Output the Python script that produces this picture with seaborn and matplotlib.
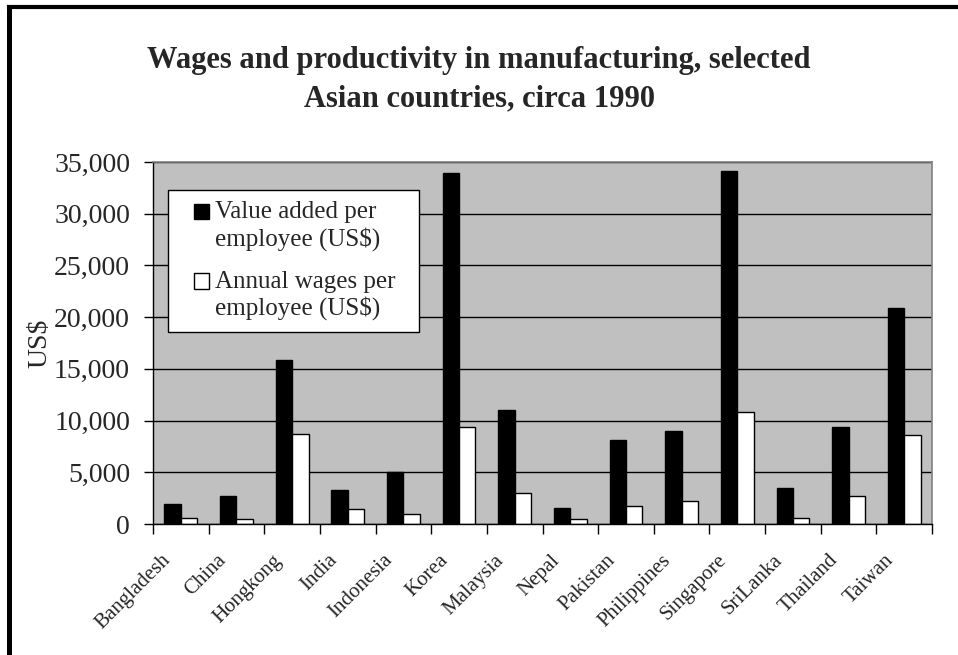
import matplotlib
matplotlib.use("Agg")
import matplotlib.pyplot as plt
from matplotlib.lines import Line2D
from matplotlib.patches import Rectangle
from matplotlib.legend_handler import HandlerPatch
from matplotlib.ticker import FuncFormatter, MultipleLocator
import matplotlib.transforms as mtransforms
import seaborn as sns
import pandas as pd

countries = ["Bangladesh", "China", "Hongkong", "India", "Indonesia", "Korea",
             "Malaysia", "Nepal", "Pakistan", "Philippines", "Singapore",
             "SriLanka", "Thailand", "Taiwan"]
value_added = [1950, 2680, 15880, 3320, 5060, 33910, 10990, 1580, 8090, 8990,
               34100, 3480, 9370, 20870]
annual_wages = [620, 450, 8730, 1450, 1000, 9370, 3030, 450, 1740, 2220,
                10830, 620, 2680, 8600]
series_names = ["Value added per\nemployee (US$)", "Annual wages per\nemployee (US$)"]

df = pd.DataFrame({
    "country": countries * 2,
    "value": value_added + annual_wages,
    "series": [series_names[0]] * len(countries) + [series_names[1]] * len(countries),
})

sns.set_theme(style="white")
plt.rcParams["font.family"] = ["Liberation Serif", "DejaVu Serif"]

fig = plt.figure(figsize=(9.58, 6.55), dpi=100)
ax = fig.add_axes([0.1597, 0.2, 0.8132, 0.5527])
ax.set_facecolor("#C0C0C0")

sns.barplot(data=df, x="country", y="value", hue="series", order=countries,
            hue_order=series_names, palette=["black", "white"], width=0.59,
            edgecolor="black", linewidth=1, saturation=1, errorbar=None, ax=ax)

ax.set_ylim(0, 35000)
ax.set_xlim(-0.5, len(countries) - 0.5)
ax.yaxis.set_major_locator(MultipleLocator(5000))
ax.yaxis.set_major_formatter(FuncFormatter(lambda v, p: f"{int(v):,}"))
ax.grid(axis="y", color="black", linewidth=1)
ax.set_axisbelow(True)

# category boundary ticks on the x axis, labels at the category centres
ax.set_xticks([i - 0.5 for i in range(len(countries) + 1)], minor=False)
ax.set_xticklabels([])
ax.tick_params(axis="x", which="major", direction="out", length=7, width=1,
               color="black", bottom=True)
ax.set_xticks(range(len(countries)), minor=True)
ax.set_xticklabels(countries, minor=True, rotation=45, ha="right",
                   rotation_mode="anchor", fontsize=15)
ax.tick_params(axis="x", which="minor", length=0, pad=10)
shift = mtransforms.ScaledTranslation(-0.20, -0.13, fig.dpi_scale_trans)
for lbl in ax.get_xticklabels(minor=True):
    lbl.set_transform(lbl.get_transform() + shift)

ax.tick_params(axis="y", direction="out", length=6.5, width=1, color="black",
               labelsize=20, left=True, pad=10)

for side in ["top", "right"]:
    ax.spines[side].set_color("#808080")
    ax.spines[side].set_linewidth(1.2)
for side in ["left", "bottom"]:
    ax.spines[side].set_color("black")
    ax.spines[side].set_linewidth(1)

ax.set_xlabel("")
ax.set_ylabel("US$", fontsize=20, labelpad=1)


def top_aligned_square(legend, orig_handle, xdescent, ydescent, width, height, fontsize):
    # square at the right of the handle box, beside the first line of the label
    side = 0.62 * fontsize
    return Rectangle((-xdescent + width - side, -ydescent + height - side + 0.55 * fontsize),
                     side, side)


leg = ax.legend(loc="upper left", bbox_to_anchor=(0.019, 0.539, 0.322, 0.384),
                mode="expand", fontsize=18,
                frameon=True, fancybox=False, edgecolor="black",
                facecolor="white", framealpha=1, handlelength=1.2,
                handleheight=0.62, handletextpad=0.25, labelspacing=0.8,
                borderpad=0.45, borderaxespad=0,
                handler_map={Rectangle: HandlerPatch(patch_func=top_aligned_square)})
leg.get_frame().set_linewidth(1)

fig.suptitle("Wages and productivity in manufacturing, selected\nAsian countries, circa 1990",
             fontsize=22, fontweight="bold", x=0.5, y=0.93, linespacing=1.45)

# page frame: left and top edges
fig.add_artist(Line2D([0.0099, 0.0099], [0.0, 0.9893], transform=fig.transFigure,
                      color="black", linewidth=3.6, solid_capstyle="projecting"))
fig.add_artist(Line2D([0.0099, 1.0], [0.9893, 0.9893], transform=fig.transFigure,
                      color="black", linewidth=3.0, solid_capstyle="projecting"))

fig.savefig("out.png", dpi=100)
